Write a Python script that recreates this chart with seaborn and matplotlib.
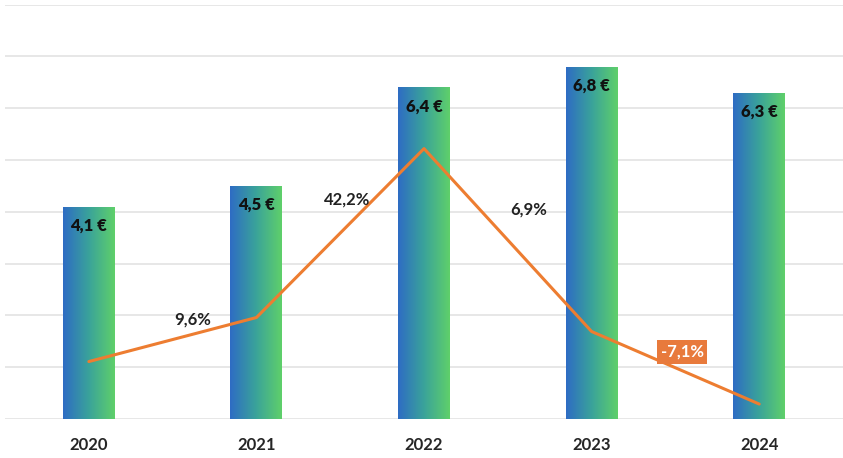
import numpy as np
import pandas as pd
import matplotlib
matplotlib.use('Agg')
import matplotlib.pyplot as plt
import seaborn as sns
from matplotlib.colors import LinearSegmentedColormap

years = ['2020', '2021', '2022', '2023', '2024']
revenue = [4.1, 4.5, 6.4, 6.8, 6.3]
growth = [1.1, 9.6, 42.2, 6.9, -7.1]
revenue_labels = ['4,1 €', '4,5 €', '6,4 €', '6,8 €', '6,3 €']
growth_labels = ['', '9,6%', '42,2%', '6,9%', '-7,1%']

df = pd.DataFrame({'year': years, 'revenue': revenue, 'growth': growth})

sns.set_style('white')
plt.rcParams['font.family'] = ['Lato', 'DejaVu Sans']

fig = plt.figure(figsize=(8.43, 4.58), dpi=100)
ax = fig.add_axes([0.006, 0.085, 0.994, 0.905])

sns.barplot(data=df, x='year', y='revenue', ax=ax, width=0.31, color='#3a8fc0')
ax.set_ylim(0, 8)
ax.set_xlim(-0.5, 4.5)
ax.set_yticks(range(0, 9))
ax.yaxis.grid(True, color='#e3e3e3', linewidth=1.2)
ax.set_axisbelow(True)
ax.tick_params(axis='y', left=False, right=False, labelleft=False, length=0)
ax.tick_params(axis='x', bottom=False, labelsize=12, pad=13, length=0)
for lbl in ax.get_xticklabels():
    lbl.set_fontweight('bold')
ax.set_xlabel('')
ax.set_ylabel('')
for s in ax.spines.values():
    s.set_visible(False)

# gradient fill for bars
cmap = LinearSegmentedColormap.from_list('bg', ['#2e6cc4', '#3aa39a', '#5fd06a'])
grad = np.linspace(0, 1, 256).reshape(1, -1)
for bar, txt in zip(ax.patches, revenue_labels):
    x0, w, h = bar.get_x(), bar.get_width(), bar.get_height()
    bar.set_facecolor('none')
    bar.set_edgecolor('none')
    im = ax.imshow(grad, cmap=cmap, extent=[x0, x0 + w, 0, h], aspect='auto', zorder=2)
    im.set_clip_path(bar)
    ax.text(x0 + w / 2, h - 0.37, txt, ha='center', va='center',
            fontsize=12, fontweight='heavy', color='#111111', zorder=4)
ax.set_xlim(-0.5, 4.5)
ax.set_ylim(0, 8)

ax2 = ax.twinx()
sns.lineplot(x=np.arange(len(years)), y=growth, ax=ax2, color='#ed7d31', linewidth=2.2, zorder=5)
ax2.set_ylim(-10, 70)
ax2.set_xlim(-0.5, 4.5)
ax2.axis('off')

offsets = [(0, 0), (-0.38, -0.3), (-0.46, -9.9), (-0.375, 23.5), (-0.46, 10.05)]
for i, (txt, (dx, dy)) in enumerate(zip(growth_labels, offsets)):
    if not txt:
        continue
    if txt.startswith('-'):
        ax2.text(i + dx, growth[i] + dy, txt, ha='center', va='center', fontsize=12,
                 fontweight='bold', color='white', zorder=6,
                 bbox=dict(boxstyle='square,pad=0.22', facecolor='#e87a3c', edgecolor='none'))
    else:
        ax2.text(i + dx, growth[i] + dy, txt, ha='center', va='center', fontsize=12,
                 fontweight='bold', color='#222222', zorder=6)

fig.savefig('out.png', dpi=100)
